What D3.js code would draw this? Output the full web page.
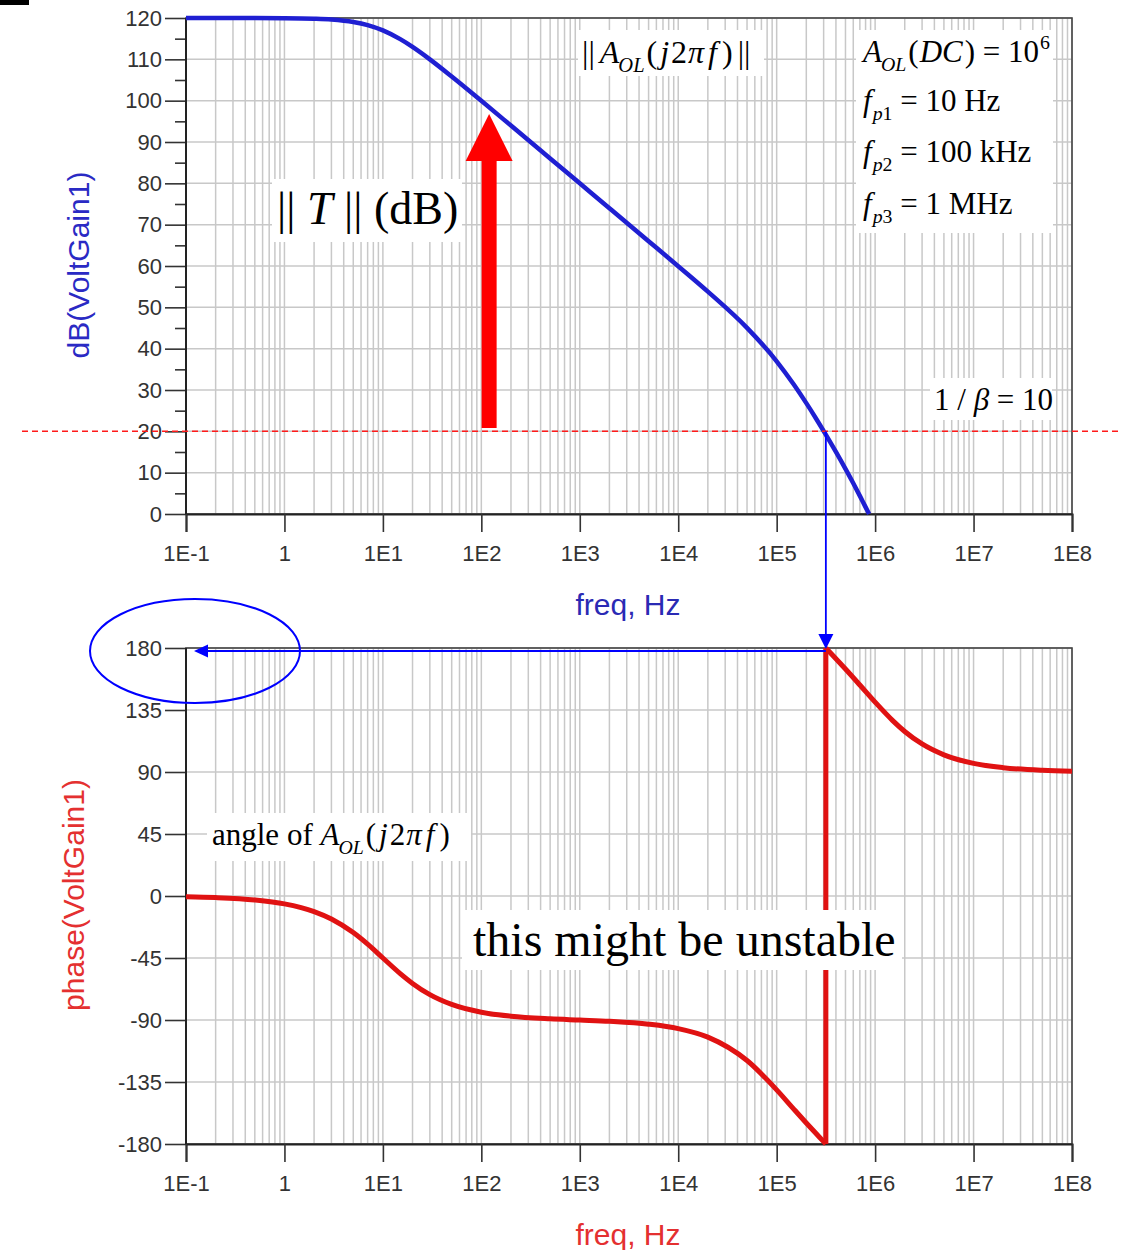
<!DOCTYPE html>
<html>
<head>
<meta charset="utf-8">
<title>Open-loop gain and phase</title>
<script src="https://d3js.org/d3.v7.min.js"></script>
<style>
  body { margin: 0; background: #fff; }
  .tick text { font-family: "Liberation Sans", Arial, sans-serif; font-size: 22px; fill: #333; }
  .tick line { stroke: #333; stroke-width: 1.6; }
  .grid line { stroke: #c8c8c8; stroke-width: 1.5; }
  .math { font-family: "Liberation Serif", "Times New Roman", serif; fill: #000; }
  .title { font-family: "Liberation Sans", Arial, sans-serif; font-size: 30px; }
</style>
</head>
<body>
<svg width="1122" height="1250"></svg>
<script>
// magnitude of A_OL
const freqMag = [0.1, 0.2, 0.5, 1, 2, 3, 5, 7, 10, 15, 20, 30, 50, 100, 200, 500,
  1e3, 2e3, 5e3, 1e4, 2e4, 5e4, 1e5, 1.5e5, 2e5, 2.5e5, 3.2e5, 4e5, 5e5, 6e5, 7e5, 8e5, 8.7e5];
const magDb = [120.0, 120.0, 119.99, 119.96, 119.83, 119.63, 119.03, 118.27, 116.99, 114.88, 113.01, 110.0, 105.85, 99.96, 93.97, 86.02,
  80.0, 73.98, 66.01, 59.96, 53.81, 45.04, 36.95, 31.26, 26.82, 23.18, 18.97, 15.02, 10.90, 7.43, 4.38, 1.66, 0];

// phase, before and after the wrap at -180 / +180
const freqPhaseLow = [0.1, 0.2, 0.5, 1, 2, 3, 5, 7, 10, 15, 20, 30, 50, 100, 200, 500,
  1e3, 2e3, 5e3, 1e4, 2e4, 5e4, 1e5, 1.5e5, 2e5, 2.5e5, 3e5, 3.16e5];
const phaseLow = [-0.57, -1.15, -2.86, -5.71, -11.31, -16.70, -26.57, -34.99, -45.0, -56.31, -63.43, -71.57, -78.69, -84.35, -87.27, -89.17,
  -90.06, -90.97, -93.04, -96.23, -102.43, -119.42, -140.70, -154.84, -164.74, -172.24, -178.27, -180];
const freqPhaseHigh = [3.16e5, 4e5, 5e5, 7e5, 1e6, 1.5e6, 2e6, 3e6, 5e6, 1e7, 2e7, 5e7, 1e8];
const phaseHigh = [180, 172.24, 164.74, 153.14, 140.71, 127.5, 119.43, 110.34, 102.46, 96.28, 93.15, 91.26, 90.63];

const xTickValues = [1e-1, 1, 1e1, 1e2, 1e3, 1e4, 1e5, 1e6, 1e7, 1e8];
const xTickLabels = ["1E-1", "1", "1E1", "1E2", "1E3", "1E4", "1E5", "1E6", "1E7", "1E8"];
const magTicks = [0, 10, 20, 30, 40, 50, 60, 70, 80, 90, 100, 110, 120];
const magMinorTicks = [5, 15, 25, 35, 45, 55, 65, 75, 85, 95, 105, 115];
const phaseTicks = [-180, -135, -90, -45, 0, 45, 90, 135, 180];

const betaDb = 20;        // 1/beta = 10
const crossFreq = 3.16e5; // |A_OL| meets 1/beta
const arrowFreq = 120;    // red arrow showing ||T||
const arrowFrom = 20.8, arrowTo = 96.8;

const svg = d3.select("svg");
const blue = "#1f1fd2", red = "#e01212";

svg.append("rect").attr("x", 0).attr("y", 0).attr("width", 29).attr("height", 5).attr("fill", "#000");

const x = d3.scaleLog().domain([1e-1, 1e8]).range([186, 1072]);
const yTop = d3.scaleLinear().domain([0, 120]).range([514, 18]);
const yBot = d3.scaleLinear().domain([-180, 180]).range([1144, 648]);

// vertical grid positions: 1..9 in every decade
const gridFreqs = [];
for (let d = -1; d < 8; d++) for (let m = 1; m < 10; m++) gridFreqs.push(m * Math.pow(10, d));
gridFreqs.push(1e8);

function drawPlot(y, yTicks, yMinor) {
  const [y0, y1] = y.range();
  const grid = svg.append("g").attr("class", "grid");
  grid.selectAll("line.v").data(gridFreqs).enter().append("line")
    .attr("x1", d => x(d)).attr("x2", d => x(d)).attr("y1", y0).attr("y2", y1);
  grid.selectAll("line.h").data(yTicks).enter().append("line")
    .attr("x1", x.range()[0]).attr("x2", x.range()[1]).attr("y1", d => y(d)).attr("y2", d => y(d));

  svg.append("rect").attr("x", x.range()[0]).attr("y", y1)
    .attr("width", x.range()[1] - x.range()[0]).attr("height", y0 - y1)
    .attr("fill", "none").attr("stroke", "#444").attr("stroke-width", 1.6);

  const ya = svg.append("g").attr("transform", `translate(${x.range()[0]},0)`)
    .call(d3.axisLeft(y).tickValues(yTicks).tickSize(21).tickPadding(3).tickFormat(d => String(d)));
  ya.select(".domain").remove();
  if (yMinor) {
    const ym = svg.append("g").attr("transform", `translate(${x.range()[0]},0)`)
      .call(d3.axisLeft(y).tickValues(yMinor).tickSize(11).tickFormat(""));
    ym.select(".domain").remove();
  }
  const xa = svg.append("g").attr("transform", `translate(0,${y0})`)
    .call(d3.axisBottom(x).tickValues(xTickValues).tickSize(18).tickPadding(13)
      .tickFormat((d, i) => xTickLabels[i]));
  xa.select(".domain").attr("stroke", "#222").attr("stroke-width", 2);
  svg.append("line").attr("x1", x.range()[0]).attr("x2", x.range()[0]).attr("y1", y0).attr("y2", y1)
    .attr("stroke", "#222").attr("stroke-width", 2);
}

drawPlot(yTop, magTicks, magMinorTicks);
drawPlot(yBot, phaseTicks, null);

// axis titles
svg.append("text").attr("class", "title").attr("transform", "translate(89,265) rotate(-90)")
  .attr("text-anchor", "middle").attr("fill", "#2a2ac4").text("dB(VoltGain1)");
svg.append("text").attr("class", "title").attr("x", 628).attr("y", 615)
  .attr("text-anchor", "middle").attr("fill", "#2a2ab4").text("freq, Hz");
svg.append("text").attr("class", "title").attr("transform", "translate(84,895) rotate(-90)")
  .attr("text-anchor", "middle").attr("fill", "#e43030").text("phase(VoltGain1)");
svg.append("text").attr("class", "title").attr("x", 628).attr("y", 1245)
  .attr("text-anchor", "middle").attr("fill", "#e43030").text("freq, Hz");

// curves
const magLine = d3.line().x((d, i) => x(freqMag[i])).y(d => yTop(d)).curve(d3.curveMonotoneX);
svg.append("path").datum(magDb).attr("d", magLine)
  .attr("fill", "none").attr("stroke", blue).attr("stroke-width", 4.5);

const lowLine = d3.line().x((d, i) => x(freqPhaseLow[i])).y(d => yBot(d)).curve(d3.curveMonotoneX);
const highLine = d3.line().x((d, i) => x(freqPhaseHigh[i])).y(d => yBot(d)).curve(d3.curveMonotoneX);
svg.append("path").datum(phaseLow).attr("d", lowLine)
  .attr("fill", "none").attr("stroke", red).attr("stroke-width", 5);
svg.append("path").datum(phaseHigh).attr("d", highLine)
  .attr("fill", "none").attr("stroke", red).attr("stroke-width", 5);
svg.append("line")
  .attr("x1", x(freqPhaseLow[freqPhaseLow.length - 1])).attr("y1", yBot(phaseLow[phaseLow.length - 1]))
  .attr("x2", x(freqPhaseHigh[0])).attr("y2", yBot(phaseHigh[0]))
  .attr("stroke", red).attr("stroke-width", 5);

// 1/beta level
svg.append("line").attr("x1", 22).attr("x2", 1122).attr("y1", yTop(betaDb)).attr("y2", yTop(betaDb))
  .attr("stroke", "#ff1a1a").attr("stroke-width", 1.5).attr("stroke-dasharray", "6,4");

// red arrow: ||T|| in dB
const ax = x(arrowFreq), aBot = yTop(arrowFrom), aTip = yTop(arrowTo);
svg.append("path")
  .attr("d", `M${ax - 7.5},${aBot} L${ax - 7.5},${aTip + 47} L${ax - 23.5},${aTip + 47} L${ax},${aTip}
    L${ax + 23.5},${aTip + 47} L${ax + 7.5},${aTip + 47} L${ax + 7.5},${aBot} Z`)
  .attr("fill", "#ff0000");

// blue arrows from the crossover to the phase plot
const cx = x(crossFreq), hy = yBot(180) + 3;
svg.append("line").attr("x1", cx).attr("x2", cx).attr("y1", yTop(betaDb)).attr("y2", yBot(180) - 12)
  .attr("stroke", "#0000ff").attr("stroke-width", 1.8);
svg.append("path").attr("d", `M${cx - 7.5},${yBot(180) - 14} L${cx + 7.5},${yBot(180) - 14} L${cx},${yBot(180) + 1} Z`)
  .attr("fill", "#0000ff");
svg.append("line").attr("x1", cx).attr("x2", x(0.1) + 20).attr("y1", hy).attr("y2", hy)
  .attr("stroke", "#0000ff").attr("stroke-width", 1.8);
svg.append("path").attr("d", `M${x(0.1) + 8},${hy} L${x(0.1) + 22},${hy - 6.5} L${x(0.1) + 22},${hy + 6.5} Z`)
  .attr("fill", "#0000ff");
svg.append("ellipse").attr("cx", 195).attr("cy", 651).attr("rx", 105).attr("ry", 52)
  .attr("fill", "none").attr("stroke", "#0000ff").attr("stroke-width", 2);

// text labels on white boxes
function mathText(x0, y0, size, parts) {
  const t = svg.append("text").attr("class", "math").attr("x", x0).attr("y", y0).attr("font-size", size);
  let shift = 0;
  parts.forEach(p => {
    const s = t.append("tspan").text(p.t);
    if (p.i) s.attr("font-style", "italic");
    if (p.dx) s.attr("dx", p.dx);
    const target = p.sub ? 0.28 * size : p.sup ? -0.42 * size : 0;
    s.attr("dy", target - shift);
    shift = target;
    if (p.sub || p.sup) s.attr("font-size", size * 0.64);
  });
  return t;
}
function box(x0, y0, w, h) {
  svg.append("rect").attr("x", x0).attr("y", y0).attr("width", w).attr("height", h).attr("fill", "#fff");
}

const OL = [{ t: "A", i: 1 }, { t: "OL", i: 1, sub: 1, dx: -1 }];
const jw = [{ t: "(", dx: 2 }, { t: "j", i: 1, dx: 3 }, { t: "2", dx: 2 }, { t: "π", i: 1, dx: 1 },
  { t: "f", i: 1, dx: 4 }, { t: ")", dx: 5 }];

box(272, 179, 190, 63);
mathText(277, 224, 46, [{ t: "|| " }, { t: "T", i: 1 }, { t: " || (dB)" }]);

box(578, 30, 186, 46);
mathText(582, 63, 32, [{ t: "||" }, { t: "A", i: 1, dx: 5 }, { t: "OL", i: 1, sub: 1, dx: -1 }, ...jw, { t: "||", dx: 5 }]);

box(856, 30, 197, 203);
mathText(863, 62, 31, [...OL, { t: "(", dx: 2 }, { t: "DC", i: 1, dx: 1 }, { t: ") = 10", dx: 2 }, { t: "6", sup: 1, dx: 1 }]);
mathText(863, 111, 31, [{ t: "f", i: 1 }, { t: "p", i: 1, sub: 1, dx: 1 }, { t: "1", sub: 1 }, { t: " = 10 Hz" }]);
mathText(863, 162, 31, [{ t: "f", i: 1 }, { t: "p", i: 1, sub: 1, dx: 1 }, { t: "2", sub: 1 }, { t: " = 100 kHz" }]);
mathText(863, 214, 31, [{ t: "f", i: 1 }, { t: "p", i: 1, sub: 1, dx: 1 }, { t: "3", sub: 1 }, { t: " = 1 MHz" }]);

box(930, 378, 122, 42);
mathText(934, 410, 31, [{ t: "1 / " }, { t: "β", i: 1 }, { t: " = 10" }]);

box(207, 813, 264, 48);
mathText(212, 845, 31, [{ t: "angle of " }, ...OL, ...jw]);

box(462, 910, 440, 60);
mathText(473, 956, 48, [{ t: "this might be unstable" }]);
</script>
</body>
</html>
